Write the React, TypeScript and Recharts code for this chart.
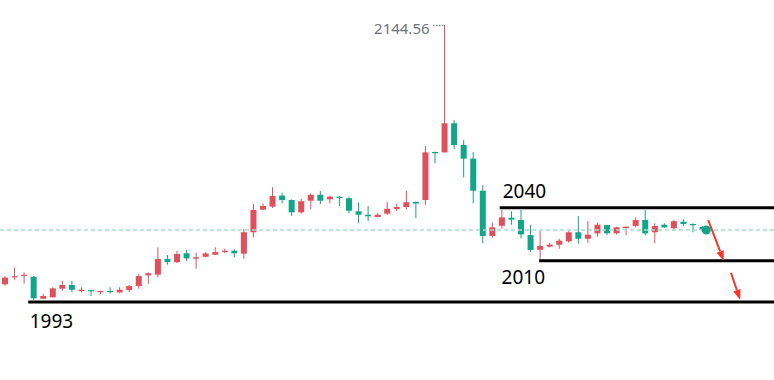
import React from 'react';
import { ComposedChart, Bar, XAxis, YAxis, ReferenceLine, ReferenceDot } from 'recharts';

// candle values (oldest first)
const opens = [
  1996.6, 2000.8, 2001.5, 2000.9, 1988.4, 1989.2, 1994.1, 1996.2, 1993.2, 1993.3,
  1992.4, 1992.8, 1992.0, 1993.3, 1995.6, 2001.7, 2002.1, 2011.0, 2009.2, 2014.3,
  2011.2, 2012.3, 2013.5, 2015.0, 2015.8, 2014.1, 2026.3, 2039.2, 2040.9, 2047.2,
  2044.7, 2037.7, 2044.3, 2047.7, 2045.1, 2046.6, 2045.7, 2038.3, 2036.3, 2035.0,
  2036.9, 2039.6, 2040.7, 2043.6, 2044.7, 2072.1, 2071.9, 2088.5, 2076.1, 2068.3,
  2050.0, 2024.2, 2030.0, 2034.6, 2033.3, 2024.7, 2016.3, 2018.1, 2019.2, 2021.1,
  2026.3, 2022.6, 2025.7, 2030.4, 2025.7, 2028.7, 2029.9, 2033.3, 2026.3, 2030.6,
  2028.6, 2032.3, 2031.0, 2029.3,
];
const highs = [
  2001.2, 2006.1, 2003.4, 2001.3, 1991.1, 1994.9, 1998.5, 1998.5, 1994.9, 1993.5,
  1992.9, 1994.9, 1994.9, 1996.2, 2002.6, 2003.4, 2017.7, 2013.3, 2015.6, 2016.2,
  2014.6, 2014.9, 2017.7, 2016.9, 2016.6, 2028.3, 2042.4, 2042.8, 2052.0, 2048.9,
  2045.0, 2045.3, 2048.5, 2049.8, 2047.2, 2047.0, 2046.6, 2043.4, 2041.3, 2037.1,
  2043.6, 2042.6, 2050.0, 2043.9, 2075.5, 2072.4, 2144.56, 2090.4, 2078.9, 2072.1,
  2053.1, 2031.8, 2039.0, 2038.3, 2039.0, 2030.4, 2027.0, 2020.3, 2022.6, 2027.2,
  2035.6, 2032.6, 2031.8, 2030.6, 2029.5, 2029.6, 2034.8, 2039.0, 2031.4, 2031.4,
  2033.3, 2033.7, 2031.4, 2029.9,
];
const lows = [
  1995.8, 1999.2, 1996.9, 1987.6, 1988.2, 1989.0, 1992.9, 1992.2, 1992.0, 1989.9,
  1991.1, 1991.2, 1991.5, 1992.0, 1994.1, 1996.9, 2000.6, 2007.8, 2008.8, 2009.9,
  2005.5, 2012.0, 2013.3, 2014.3, 2012.0, 2011.2, 2023.4, 2039.0, 2040.1, 2042.8,
  2035.6, 2036.9, 2039.4, 2042.4, 2042.8, 2041.3, 2037.1, 2031.4, 2032.6, 2034.8,
  2036.3, 2038.4, 2039.4, 2034.3, 2042.0, 2065.6, 2071.8, 2073.8, 2057.7, 2042.8,
  2020.0, 2023.4, 2028.3, 2030.6, 2022.8, 2015.2, 2010.5, 2017.7, 2016.9, 2020.3,
  2019.8, 2020.3, 2023.8, 2024.6, 2025.1, 2024.7, 2029.1, 2024.6, 2020.0, 2028.7,
  2027.2, 2029.9, 2026.3, 2026.4,
];
const closes = [
  2000.4, 2001.2, 2002.1, 1988.6, 1989.9, 1994.3, 1996.2, 1993.5, 1993.5, 1992.8,
  1992.8, 1992.2, 1993.5, 1995.6, 2001.3, 2002.9, 2011.0, 2009.3, 2013.9, 2011.4,
  2012.0, 2014.2, 2015.0, 2015.8, 2014.3, 2026.3, 2039.0, 2041.3, 2047.0, 2044.7,
  2037.7, 2044.0, 2047.7, 2044.3, 2046.6, 2046.0, 2038.6, 2036.3, 2035.4, 2036.3,
  2039.7, 2040.7, 2043.4, 2042.7, 2071.9, 2071.4, 2088.5, 2076.1, 2068.3, 2050.0,
  2024.2, 2029.1, 2034.8, 2033.5, 2025.1, 2016.2, 2018.5, 2019.2, 2021.5, 2026.3,
  2022.6, 2024.9, 2030.6, 2025.7, 2029.1, 2029.5, 2033.3, 2025.7, 2029.9, 2029.1,
  2032.6, 2031.0, 2030.4, 2027.6,
];

// empty slots to the right of the last candle
const emptySlots = 7;

const peakLabel = '2144.56';

// hand-drawn levels: price, text, first candle slot
const levelPrices = [2040.3, 2010.0, 1986.5];
const levelLabels = ['2040', '2010', '1993'];
const levelStarts = [51.65, 55.73, 2.92];

// red arrows: [slot, price] start and tip
const arrowFrom = [[73.2, 2033.3], [75.55, 2003.2]];
const arrowTo = [[74.8, 2010.0], [76.5, 1987.8]];

const RED = '#e04f5c';
const GREEN = '#12a589';
const ARROW = '#f2362c';
const FONT = "'Noto Sans', sans-serif";

const totalSlots = closes.length + emptySlots;
const lastIdx = closes.length - 1;
const lastClose = closes[lastIdx];
const peakIdx = highs.indexOf(Math.max(...highs));

const data = Array.from({ length: totalSlots }, (_, i) =>
  i < closes.length
    ? { i, open: opens[i], high: highs[i], low: lows[i], close: closes[i], range: [lows[i], highs[i]] }
    : { i }
);

const Candle = (props: any) => {
  const { x, y, width, height, payload } = props;
  if (!payload || payload.high == null) return null;
  const { open, close, high, low } = payload;
  const color = close >= open ? RED : GREEN;
  const k = high > low ? height / (high - low) : 0;
  const toY = (v: number) => y + (high - v) * k;
  const top = toY(Math.max(open, close));
  const bot = toY(Math.min(open, close));
  const cx = x + width / 2;
  return (
    <g>
      <line x1={cx} x2={cx} y1={y} y2={y + height} stroke={color} strokeWidth={1} />
      <rect x={x} y={top} width={width} height={Math.max(bot - top, 1.2)} fill={color} />
    </g>
  );
};

const levelShape = (text: string, dx: number, dy: number) => (p: any) => (
  <g>
    <line x1={p.x1} y1={p.y1} x2={p.x2} y2={p.y2} stroke="#000" strokeWidth={3} />
    <text x={p.x1 + dx} y={p.y1 + dy} fontSize={19} fontFamily={FONT} fill="#000">
      {text}
    </text>
  </g>
);

const arrowShape = (p: any) => {
  const { x1, y1, x2, y2 } = p;
  const a = Math.atan2(y2 - y1, x2 - x1);
  const len = 10;
  const half = 3.8;
  const bx = x2 - len * Math.cos(a);
  const by = y2 - len * Math.sin(a);
  const nx = -Math.sin(a) * half;
  const ny = Math.cos(a) * half;
  return (
    <g>
      <line x1={x1} y1={y1} x2={bx} y2={by} stroke={ARROW} strokeWidth={2} />
      <polygon points={`${x2},${y2} ${bx + nx},${by + ny} ${bx - nx},${by - ny}`} fill={ARROW} />
    </g>
  );
};

// dotted leader from the peak label to the wick
const peakShape = (p: any) => {
  const y = Math.round(p.y1) + 0.5;
  const x1 = Math.round(p.x1);
  return (
    <g>
      <line x1={x1} y1={y} x2={p.x2} y2={y} stroke="#7b8088" strokeWidth={1.5} strokeDasharray="1.5 1.5" />
      <text x={p.x1 - 3} y={p.y1 + 8.5} fontSize={15} fontFamily={FONT} fill="#6e737b" textAnchor="end">
        {peakLabel}
      </text>
    </g>
  );
};

const labelOffsets = [
  { dx: 3, dy: -9.4 },
  { dx: -37.6, dy: 23.2 },
  { dx: 1.5, dy: 25.7 },
];

export default function App() {
  return (
    <div style={{ position: 'absolute', left: 0, top: 0, width: 774, height: 380, background: '#fff' }}>
      <ComposedChart width={774} height={380} data={data} margin={{ top: 0, right: 0, bottom: 0, left: 0 }}>
        <XAxis dataKey="i" type="category" hide />
        <XAxis xAxisId="n" type="number" domain={[-0.5, totalSlots - 0.5]} allowDataOverflow hide />
        <YAxis domain={[1942, 2158.83]} allowDataOverflow hide />
        <ReferenceLine y={lastClose} stroke="#a9dccf" strokeWidth={1.5} strokeDasharray="4 3" ifOverflow="visible" />
        <Bar dataKey="range" barSize={6} shape={Candle} isAnimationActive={false} />
        <ReferenceLine
          xAxisId="n"
          segment={[{ x: peakIdx - 1.29, y: highs[peakIdx] }, { x: peakIdx - 0.08, y: highs[peakIdx] }]}
          shape={peakShape}
          ifOverflow="visible"
        />
        {levelPrices.map((v, k) => (
          <ReferenceLine
            key={levelLabels[k]}
            xAxisId="n"
            segment={[{ x: levelStarts[k], y: v }, { x: totalSlots - 0.5, y: v }]}
            shape={levelShape(levelLabels[k], labelOffsets[k].dx, labelOffsets[k].dy)}
            ifOverflow="visible"
          />
        ))}
        {arrowFrom.map((f, k) => (
          <ReferenceLine
            key={`arrow-${k}`}
            xAxisId="n"
            segment={[{ x: f[0], y: f[1] }, { x: arrowTo[k][0], y: arrowTo[k][1] }]}
            shape={arrowShape}
            ifOverflow="visible"
          />
        ))}
        <ReferenceDot xAxisId="n" x={lastIdx} y={lastClose} r={4.5} fill={GREEN} stroke="none" ifOverflow="visible" />
      </ComposedChart>
    </div>
  );
}
